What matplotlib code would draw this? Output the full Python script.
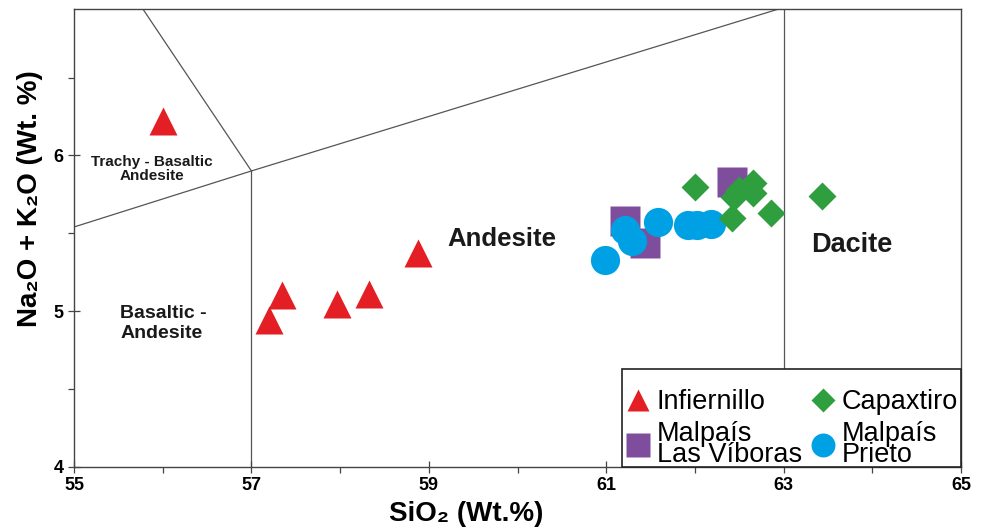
import matplotlib
matplotlib.use("Agg")
import matplotlib.pyplot as plt
from matplotlib.ticker import FixedLocator
from matplotlib.patches import Rectangle

plt.rcParams['font.family'] = ['Liberation Sans', 'DejaVu Sans']

# sample groups: SiO2 (wt.%) and Na2O + K2O (wt.%)
infiernillo_si = [56.0, 57.35, 57.2, 57.96, 58.32, 58.88]
infiernillo_alk = [6.22, 5.10, 4.94, 5.045, 5.11, 5.37]

viboras_si = [62.42, 61.21, 61.44]
viboras_alk = [5.83, 5.58, 5.44]

prieto_si = [60.99, 61.21, 61.29, 61.58, 61.92, 62.02, 62.18]
prieto_alk = [5.33, 5.52, 5.45, 5.57, 5.55, 5.55, 5.56]

capax_si = [62.00, 62.42, 62.86, 62.65, 62.50, 62.44, 62.66, 63.43]
capax_alk = [5.80, 5.60, 5.63, 5.82, 5.78, 5.73, 5.76, 5.74]

# TAS field boundaries
bound_low = ([52, 57, 63], [5.0, 5.9, 6.95])
bound_tba = ([57, 53], [5.9, 9.3])
bound_57 = ([57, 57], [4, 5.9])
bound_63 = ([63, 63], [4, 7.5])

x_major = [55, 57, 59, 61, 63, 65]
x_minor = [56, 58, 60, 62, 64]
y_major = [4, 5, 6]
y_minor = [4.5, 5.5, 6.5]

fig = plt.figure(figsize=(9.87, 5.32), dpi=100)
ax = fig.add_axes([0.075, 0.1227, 0.8987, 0.8603])

line_kw = dict(color='#555555', lw=0.9, zorder=1)
for bx, by in [bound_low, bound_tba, bound_57, bound_63]:
    ax.plot(bx, by, **line_kw)

ax.plot(viboras_si, viboras_alk, 's', ms=21, color='#7E4E9C', mec='none',
        label='Malpaís\nLas Víboras', zorder=3)
ax.plot(prieto_si, prieto_alk, 'o', ms=21, color='#00A1E4', mec='none',
        label='Malpaís\nPrieto', zorder=4)
ax.plot(capax_si, capax_alk, 'D', ms=14.5, color='#2E9E3E', mec='none',
        label='Capaxtiro', zorder=5)
ax.plot(infiernillo_si, infiernillo_alk, '^', ms=20, color='#E31E24', mec='none',
        label='Infiernillo', zorder=5)

# field names
ax.text(55.88, 5.91, 'Trachy - Basaltic\nAndesite', ha='center', va='center',
        fontsize=11, fontweight='bold', color='#1a1a1a', linespacing=1.0)
ax.text(55.52, 4.92, 'Basaltic -\nAndesite', ha='left', va='center',
        fontsize=14, fontweight='bold', color='#1a1a1a', linespacing=1.25)
ax.text(59.82, 5.466, 'Andesite', ha='center', va='center',
        fontsize=18.5, fontweight='bold', color='#1a1a1a')
ax.text(63.77, 5.424, 'Dacite', ha='center', va='center',
        fontsize=19.5, fontweight='bold', color='#1a1a1a')

ax.set_xlim(55, 65)
ax.set_ylim(4, 6.94)
ax.xaxis.set_major_locator(FixedLocator(x_major))
ax.xaxis.set_minor_locator(FixedLocator(x_minor))
ax.yaxis.set_major_locator(FixedLocator(y_major))
ax.yaxis.set_minor_locator(FixedLocator(y_minor))
ax.tick_params(which='major', direction='inout', length=9, width=0.9,
               color='#444444', labelsize=13, pad=3)
ax.tick_params(which='minor', direction='out', length=4, width=0.9, color='#444444')
for lab in ax.get_xticklabels() + ax.get_yticklabels():
    lab.set_fontweight('bold')
for sp in ax.spines.values():
    sp.set_color('#444444')
    sp.set_linewidth(1.0)

ax.set_xlabel('SiO₂ (Wt.%)', fontsize=20, fontweight='bold')
ax.set_ylabel('Na₂O + K₂O (Wt. %)', fontsize=20, fontweight='bold')
ax.xaxis.set_label_coords(0.442, -0.075)
ax.yaxis.set_label_coords(-0.035, 0.585)

# legend box (frame drawn separately so text can sit low in it)
ax.add_patch(Rectangle((0.618, 0.0), 0.382, 0.2135, transform=ax.transAxes,
                       facecolor='white', edgecolor='#222222', lw=1.2,
                       zorder=6, clip_on=False))

handles, labels = ax.get_legend_handles_labels()
order = [3, 0, 2, 1]
leg = ax.legend([handles[i] for i in order], [labels[i] for i in order],
                ncol=2, loc='lower right', bbox_to_anchor=(0.9966, -0.002),
                borderaxespad=0, borderpad=0, fontsize=19.5, markerscale=0.82,
                handlelength=0.8, handletextpad=0.3, columnspacing=0.37,
                labelspacing=0.2, frameon=False)
leg.set_zorder(7)
for t in leg.get_texts():
    t.set_linespacing(0.75)

fig.savefig('out.png', dpi=100)
